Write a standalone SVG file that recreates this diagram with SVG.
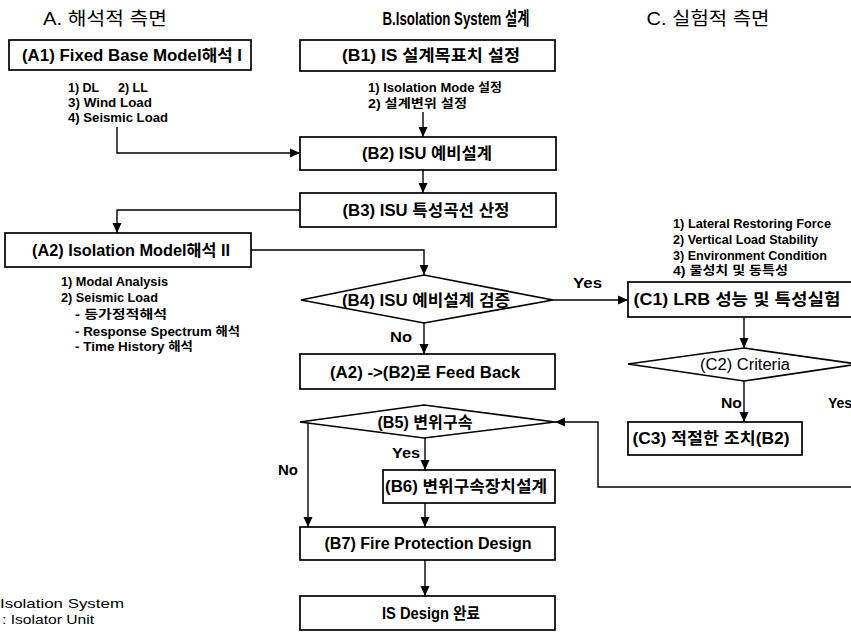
<svg xmlns="http://www.w3.org/2000/svg" width="851" height="635" viewBox="0 0 851 635">
<defs>
<style>
text{font-family:"Liberation Sans",Arial,"Noto Sans CJK KR",sans-serif;fill:#000}
.hd{font-size:18px;text-anchor:middle}
.hdb{font-size:18px;font-weight:bold;text-anchor:middle}
.lb{font-size:16px;font-weight:bold;text-anchor:middle}
.lbn{font-size:16px;text-anchor:middle}
.sb{font-size:12.5px;font-weight:bold}
.yn{font-size:14px;font-weight:bold}
.nt{font-size:13px}
.box{fill:#fff;stroke:#000;stroke-width:1.7}
.cn{fill:none;stroke:#000;stroke-width:1.4}
</style>
<marker id="ar" markerUnits="userSpaceOnUse" markerWidth="10" markerHeight="10" refX="10" refY="5" orient="auto">
<path d="M0,0.5 L10,5 L0,9.5 z" fill="#000"/>
</marker>
</defs>
<rect width="851" height="635" fill="#fff"/>

<g id="headers">
<text class="hd" x="105" y="25" textLength="124" lengthAdjust="spacingAndGlyphs">A. 해석적 측면</text>
<text class="hdb" x="456" y="25" textLength="147" lengthAdjust="spacingAndGlyphs">B.Isolation System 설계</text>
<text class="hd" x="708" y="25" textLength="123" lengthAdjust="spacingAndGlyphs">C. 실험적 측면</text>
</g>

<g id="connectors">
<path class="cn" d="M117,127 V153 H300" marker-end="url(#ar)"/>
<path class="cn" d="M423,112 V137" marker-end="url(#ar)"/>
<path class="cn" d="M423,170 V193" marker-end="url(#ar)"/>
<path class="cn" d="M300,210 H117 V233" marker-end="url(#ar)"/>
<path class="cn" d="M251,250 H424 V275" marker-end="url(#ar)"/>
<path class="cn" d="M553,300 H628" marker-end="url(#ar)"/>
<path class="cn" d="M424,323 V354" marker-end="url(#ar)"/>
<path class="cn" d="M308,421 V527" marker-end="url(#ar)"/>
<path class="cn" d="M425,437 V470" marker-end="url(#ar)"/>
<path class="cn" d="M425,503 V527" marker-end="url(#ar)"/>
<path class="cn" d="M425,560 V596" marker-end="url(#ar)"/>
<path class="cn" d="M744,317 V348" marker-end="url(#ar)"/>
<path class="cn" d="M744,381 V422" marker-end="url(#ar)"/>
<path class="cn" d="M858,364 V487 H598 V422 H555" marker-end="url(#ar)"/>
<text class="yn" x="573" y="288" textLength="29" lengthAdjust="spacingAndGlyphs">Yes</text>
<text class="yn" x="390" y="342" textLength="22" lengthAdjust="spacingAndGlyphs">No</text>
<text class="yn" x="392" y="458" textLength="28" lengthAdjust="spacingAndGlyphs">Yes</text>
<text class="yn" x="278" y="475" textLength="20" lengthAdjust="spacingAndGlyphs">No</text>
<text class="yn" x="721" y="408" textLength="21" lengthAdjust="spacingAndGlyphs">No</text>
<text class="yn" x="828" y="408">Yes</text>
</g>

<g id="A1">
<rect class="box" x="9" y="40" width="242" height="30"/>
<text class="lb" x="132" y="61" textLength="220" lengthAdjust="spacingAndGlyphs">(A1) Fixed Base Model해석 I</text>
<text class="sb" x="68" y="92">1) DL</text>
<text class="sb" x="118" y="92">2) LL</text>
<text class="sb" x="68" y="107" textLength="84" lengthAdjust="spacingAndGlyphs">3) Wind Load</text>
<text class="sb" x="68" y="122" textLength="100" lengthAdjust="spacingAndGlyphs">4) Seismic Load</text>
</g>

<g id="B1">
<rect class="box" x="300" y="40" width="255" height="31"/>
<text class="lb" x="431" y="61" textLength="178" lengthAdjust="spacingAndGlyphs">(B1) IS 설계목표치 설정</text>
<text class="sb" x="368" y="92" textLength="134" lengthAdjust="spacingAndGlyphs">1) Isolation Mode 설정</text>
<text class="sb" x="368" y="108" textLength="99" lengthAdjust="spacingAndGlyphs">2) 설계변위 설정</text>
</g>

<g id="B2">
<rect class="box" x="300" y="137" width="256" height="33"/>
<text class="lb" x="427" y="159" textLength="130" lengthAdjust="spacingAndGlyphs">(B2) ISU 예비설계</text>
</g>

<g id="B3">
<rect class="box" x="300" y="193" width="256" height="34"/>
<text class="lb" x="426" y="216" textLength="167" lengthAdjust="spacingAndGlyphs">(B3) ISU 특성곡선 산정</text>
</g>

<g id="A2">
<rect class="box" x="5" y="233" width="246" height="34"/>
<text class="lb" x="131" y="256" textLength="198" lengthAdjust="spacingAndGlyphs">(A2) Isolation Model해석 II</text>
<text class="sb" x="61" y="286" textLength="107" lengthAdjust="spacingAndGlyphs">1) Modal Analysis</text>
<text class="sb" x="61" y="302" textLength="97" lengthAdjust="spacingAndGlyphs">2) Seismic Load</text>
<text class="sb" x="75" y="319" textLength="92" lengthAdjust="spacingAndGlyphs">- 등가정적해석</text>
<text class="sb" x="75" y="336" textLength="165" lengthAdjust="spacingAndGlyphs">- Response Spectrum 해석</text>
<text class="sb" x="75" y="351" textLength="118" lengthAdjust="spacingAndGlyphs">- Time History 해석</text>
</g>

<g id="B4">
<polygon class="box" points="301,300 424,275 553,300 424,323"/>
<text class="lb" x="426" y="306" textLength="168" lengthAdjust="spacingAndGlyphs">(B4) ISU 예비설계 검증</text>
</g>

<g id="FB">
<rect class="box" x="300" y="354" width="255" height="35"/>
<text class="lb" x="425" y="378" textLength="190" lengthAdjust="spacingAndGlyphs">(A2) -&gt;(B2)로 Feed Back</text>
</g>

<g id="B5">
<polygon class="box" points="300,422 424,405 555,422 424,438"/>
<text class="lb" x="425" y="428" textLength="95" lengthAdjust="spacingAndGlyphs">(B5) 변위구속</text>
</g>

<g id="B6">
<rect class="box" x="383" y="470" width="172" height="33"/>
<text class="lb" x="466" y="492" textLength="162" lengthAdjust="spacingAndGlyphs">(B6) 변위구속장치설계</text>
</g>

<g id="B7">
<rect class="box" x="300" y="527" width="255" height="33"/>
<text class="lb" x="428" y="549" textLength="207" lengthAdjust="spacingAndGlyphs">(B7) Fire Protection Design</text>
</g>

<g id="ISD">
<rect class="box" x="300" y="596" width="255" height="34"/>
<text class="lb" x="431" y="619" textLength="98" lengthAdjust="spacingAndGlyphs">IS Design 완료</text>
</g>

<g id="C1">
<rect class="box" x="628" y="282" width="240" height="35"/>
<text class="lb" x="737" y="305" textLength="207" lengthAdjust="spacingAndGlyphs">(C1) LRB 성능 및 특성실험</text>
<text class="sb" x="673" y="228" textLength="158" lengthAdjust="spacingAndGlyphs">1) Lateral Restoring Force</text>
<text class="sb" x="673" y="244" textLength="145" lengthAdjust="spacingAndGlyphs">2) Vertical Load Stability</text>
<text class="sb" x="673" y="260" textLength="154" lengthAdjust="spacingAndGlyphs">3) Environment Condition</text>
<text class="sb" x="673" y="275" textLength="115" lengthAdjust="spacingAndGlyphs">4) 물성치 및 동특성</text>
</g>

<g id="C2">
<polygon class="box" points="628,364 744,348 858,364 744,381"/>
<text class="lbn" x="745" y="370" textLength="90" lengthAdjust="spacingAndGlyphs">(C2) Criteria</text>
</g>

<g id="C3">
<rect class="box" x="628" y="422" width="174" height="33"/>
<text class="lb" x="711" y="444" textLength="157" lengthAdjust="spacingAndGlyphs">(C3) 적절한 조치(B2)</text>
</g>

<g id="notes">
<text class="nt" x="0" y="608" textLength="124" lengthAdjust="spacingAndGlyphs">Isolation System</text>
<text class="nt" x="2" y="624" textLength="92" lengthAdjust="spacingAndGlyphs">: Isolator Unit</text>
</g>
</svg>
